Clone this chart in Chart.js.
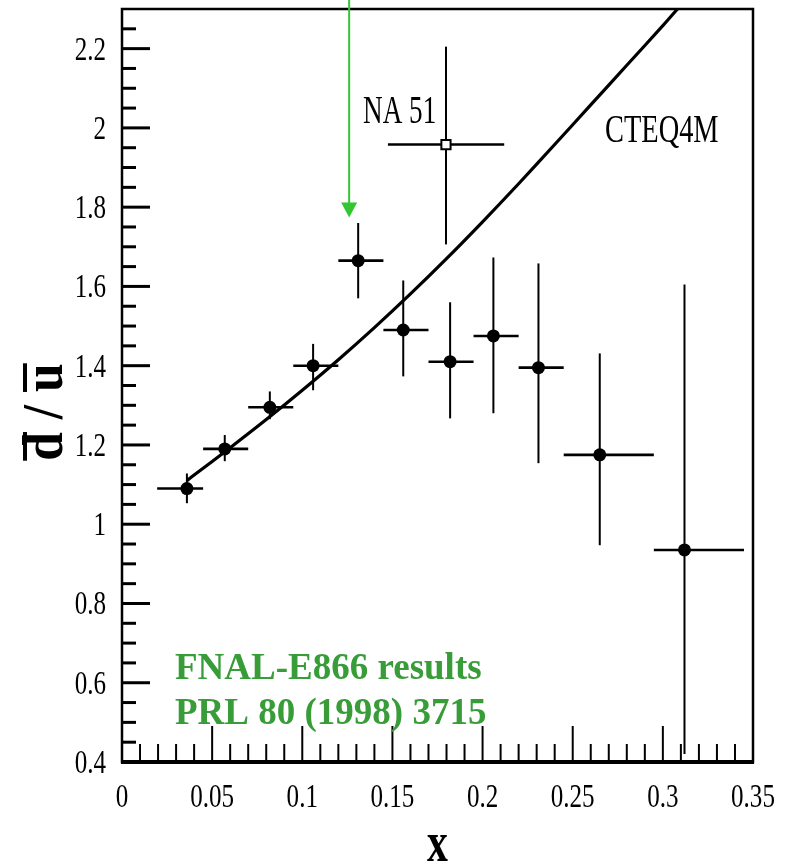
<!DOCTYPE html>
<html>
<head>
<meta charset="utf-8">
<script src="https://cdn.jsdelivr.net/npm/chart.js@4.4.1/dist/chart.umd.min.js"></script>
<style>
    html, body { margin: 0; padding: 0; background: #fff; }
    canvas { display: block; }
</style>
</head>
<body>
<canvas id="ratio" width="795" height="865"></canvas>
<script>
// E866 points
const xVals = [0.036, 0.057, 0.082, 0.106, 0.131, 0.156, 0.182, 0.206, 0.231, 0.265, 0.312];
const yVals = [1.09, 1.19, 1.295, 1.40, 1.665, 1.49, 1.41, 1.475, 1.395, 1.175, 0.935];
const xLow = [0.0195, 0.045, 0.07, 0.095, 0.12, 0.145, 0.17, 0.195, 0.22, 0.245, 0.295];
const xHigh = [0.045, 0.07, 0.095, 0.12, 0.145, 0.17, 0.195, 0.22, 0.245, 0.295, 0.345];
const yLow = [1.053, 1.159, 1.265, 1.338, 1.57, 1.373, 1.267, 1.28, 1.154, 0.947, 0.42];
const yHigh = [1.128, 1.225, 1.335, 1.455, 1.76, 1.615, 1.56, 1.673, 1.658, 1.431, 1.605];

// NA51 point
const naX = [0.1797];
const naY = [1.958];
const naXLow = [0.1475];
const naXHigh = [0.212];
const naYLow = [1.706];
const naYHigh = [2.205];

// CTEQ4M curve
const cteqX = [0.036, 0.04, 0.06, 0.08, 0.10, 0.12, 0.14, 0.16, 0.18, 0.20, 0.22, 0.24, 0.26, 0.28, 0.30, 0.31];
const cteqY = [1.110, 1.124, 1.193, 1.264, 1.338, 1.415, 1.496, 1.581, 1.670, 1.763, 1.859, 1.958, 2.058, 2.158, 2.258, 2.31];

const xTicks = [0, 0.05, 0.1, 0.15, 0.2, 0.25, 0.3, 0.35];
const xTickLabels = ["0", "0.05", "0.1", "0.15", "0.2", "0.25", "0.3", "0.35"];
const yTicks = [0.4, 0.6, 0.8, 1, 1.2, 1.4, 1.6, 1.8, 2, 2.2];
const yTickLabels = ["0.4", "0.6", "0.8", "1", "1.2", "1.4", "1.6", "1.8", "2", "2.2"];

const arrowX = 0.126;
const arrowTip = 1.774;

const serif = "'Liberation Serif', 'Times New Roman', serif";

const drawText = (ctx, text, x, y, font, sx, align, color) => {
    ctx.save();
    ctx.translate(x, y);
    ctx.scale(sx, 1);
    ctx.font = font;
    ctx.textAlign = align;
    ctx.textBaseline = "alphabetic";
    ctx.fillStyle = color || "#000";
    ctx.fillText(text, 0, 0);
    ctx.restore();
};

const errorBars = {
    id: "errorBars",
    beforeDatasetsDraw(chart) {
        const ctx = chart.ctx;
        const xs = chart.scales.x, ys = chart.scales.y;
        const bars = (px, py, xl, xh, yl, yh) => {
            for (let i = 0; i < px.length; i++) {
                const cx = xs.getPixelForValue(px[i]);
                const cy = ys.getPixelForValue(py[i]);
                ctx.lineWidth = 2.6;
                ctx.beginPath();
                ctx.moveTo(xs.getPixelForValue(xl[i]), cy);
                ctx.lineTo(xs.getPixelForValue(xh[i]), cy);
                ctx.stroke();
                ctx.lineWidth = 2;
                ctx.beginPath();
                ctx.moveTo(cx, ys.getPixelForValue(yl[i]));
                ctx.lineTo(cx, ys.getPixelForValue(yh[i]));
                ctx.stroke();
            }
        };
        ctx.save();
        ctx.strokeStyle = "#000";
        bars(xVals, yVals, xLow, xHigh, yLow, yHigh);
        bars(naX, naY, naXLow, naXHigh, naYLow, naYHigh);
        ctx.restore();
    }
};

const frame = {
    id: "frame",
    afterDraw(chart) {
        const ctx = chart.ctx;
        const a = chart.chartArea;
        const xs = chart.scales.x, ys = chart.scales.y;
        ctx.save();
        ctx.strokeStyle = "#000";

        // box
        ctx.lineWidth = 2.5;
        ctx.strokeRect(a.left, a.top, a.right - a.left, a.bottom - a.top);
        ctx.lineWidth = 4;
        ctx.beginPath();
        ctx.moveTo(a.left - 1, a.bottom);
        ctx.lineTo(a.right + 1, a.bottom);
        ctx.stroke();

        // inward ticks, y
        for (let k = 9; k <= 45; k++) {
            const yp = ys.getPixelForValue(k * 0.05);
            const major = k % 4 === 0;
            ctx.lineWidth = 3;
            ctx.beginPath();
            ctx.moveTo(a.left, yp);
            ctx.lineTo(a.left + (major ? 28 : 14), yp);
            ctx.stroke();
        }
        // inward ticks, x
        for (let k = 1; k < 35; k++) {
            const xp = xs.getPixelForValue(k * 0.01);
            const major = k % 5 === 0;
            ctx.lineWidth = 2;
            ctx.beginPath();
            ctx.moveTo(xp, a.bottom);
            ctx.lineTo(xp, a.bottom - (major ? 36 : 18));
            ctx.stroke();
        }

        // tick labels
        yTicks.forEach((v, i) => {
            drawText(ctx, yTickLabels[i], a.left - 16, ys.getPixelForValue(v) + 11, "33px " + serif, 0.76, "right");
        });
        xTicks.forEach((v, i) => {
            drawText(ctx, xTickLabels[i], xs.getPixelForValue(v), 807, "33px " + serif, 0.76, "center");
        });

        // axis titles
        drawText(ctx, "x", (a.left + a.right) / 2, 861, "bold 58px " + serif, 0.72, "center");

        ctx.save();
        ctx.translate(62, 412);
        ctx.rotate(-Math.PI / 2);
        ctx.scale(0.92, 1);
        ctx.font = "bold 56px " + serif;
        ctx.textAlign = "center";
        ctx.fillStyle = "#000";
        const label = "d / u";
        ctx.fillText(label, 0, 0);
        const w = ctx.measureText(label).width;
        const wd = ctx.measureText("d").width;
        const wu = ctx.measureText("u").width;
        ctx.fillRect(-w / 2, -39, wd, 4);
        ctx.fillRect(w / 2 - wu, -39, wu, 4);
        ctx.restore();

        // annotations
        drawText(ctx, "NA 51", 363, 123, "40px " + serif, 0.68, "left");
        drawText(ctx, "CTEQ4M", 605, 142, "40px " + serif, 0.71, "left");
        drawText(ctx, "FNAL-E866 results", 175, 679, "bold 37px " + serif, 1, "left", "#389c38");
        drawText(ctx, "PRL 80 (1998) 3715", 175, 724, "bold 37px " + serif, 1, "left", "#389c38");

        // green arrow
        const ax = xs.getPixelForValue(arrowX);
        const at = ys.getPixelForValue(arrowTip);
        ctx.strokeStyle = "#33c633";
        ctx.fillStyle = "#33c633";
        ctx.lineWidth = 2;
        ctx.beginPath();
        ctx.moveTo(ax, 0);
        ctx.lineTo(ax, at - 12);
        ctx.stroke();
        ctx.beginPath();
        ctx.moveTo(ax - 8, at - 15);
        ctx.lineTo(ax + 8, at - 15);
        ctx.lineTo(ax, at);
        ctx.closePath();
        ctx.fill();

        ctx.restore();
    }
};

const toPoints = (xs, ys) => xs.map((x, i) => ({ x: x, y: ys[i] }));

const config = {
    type: "scatter",
    data: {
        datasets: [
            {
                type: "line",
                label: "CTEQ4M",
                data: toPoints(cteqX, cteqY),
                borderColor: "#000",
                borderWidth: 3.2,
                pointRadius: 0,
                tension: 0.3,
                fill: false
            },
            {
                label: "FNAL-E866",
                data: toPoints(xVals, yVals),
                backgroundColor: "#000",
                borderColor: "#000",
                pointRadius: 6.5,
                borderWidth: 0
            },
            {
                label: "NA 51",
                data: toPoints(naX, naY),
                pointStyle: "rect",
                backgroundColor: "#fff",
                borderColor: "#000",
                borderWidth: 2,
                pointRadius: 6.5
            }
        ]
    },
    options: {
        responsive: false,
        animation: false,
        layout: {
            padding: { left: 122, right: 42, top: 9, bottom: 103 }
        },
        plugins: {
            legend: { display: false },
            tooltip: { enabled: false }
        },
        scales: {
            x: { type: "linear", min: 0, max: 0.35, display: false },
            y: { type: "linear", min: 0.4, max: 2.3, display: false }
        }
    },
    plugins: [errorBars, frame]
};

new Chart(document.getElementById("ratio").getContext("2d"), config);
</script>
</body>
</html>
